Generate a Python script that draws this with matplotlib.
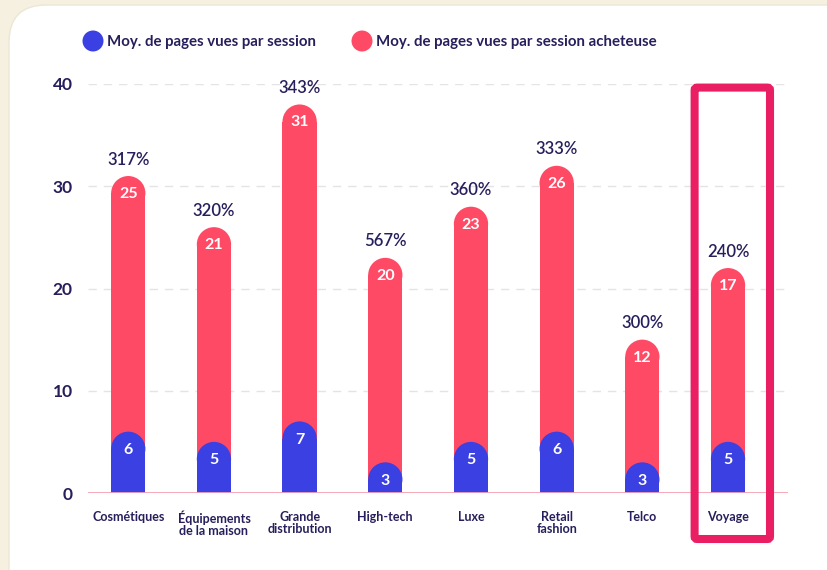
import matplotlib.pyplot as plt
from matplotlib.patches import Rectangle, Ellipse, FancyBboxPatch

categories = ["Cosmétiques", "Équipements\nde la maison", "Grande\ndistribution", "High-tech",
              "Luxe", "Retail\nfashion", "Telco", "Voyage"]
pages_session = [6, 5, 7, 3, 5, 6, 3, 5]
pages_acheteuse = [25, 21, 31, 20, 23, 26, 12, 17]
highlight = "Voyage"

BLUE = "#3a40e2"
RED = "#ff4a66"
NAVY = "#261f5c"
PINK = "#e91e63"
CREAM = "#f6f0e1"

plt.rcParams["font.family"] = ["Lato", "DejaVu Sans"]

fig = plt.figure(figsize=(8.28, 5.70), dpi=100)
fig.patch.set_facecolor(CREAM)

# white card behind the chart
card = FancyBboxPatch((9 / 828, -40 / 570), 860 / 828, 605 / 570,
                      boxstyle="round,pad=0,rounding_size=0.045", transform=fig.transFigure,
                      facecolor="white", edgecolor="#ece6d6", linewidth=1.0, zorder=-5,
                      mutation_aspect=828 / 570)
fig.patches.append(card)

ax = fig.add_axes([88 / 828, 77 / 570, 700 / 828, 409 / 570])
ax.set_zorder(2)
ax.set_facecolor("none")
ax.set_xlim(-0.47, 7.7)
ax.set_ylim(0, 40)
for s in ax.spines.values():
    s.set_visible(False)
ax.set_xticks([])
ax.set_yticks([0, 10, 20, 30, 40])
ax.tick_params(axis="y", length=0, pad=11, labelsize=12.5, labelcolor=NAVY)
for t in ax.get_yticklabels():
    t.set_fontweight("bold")
for yv in [10, 20, 30, 40]:
    ax.axhline(yv, color="#e4e4e8", lw=1.0, ls=(0, (6, 5)), zorder=1)
ax.axhline(0, color="#f4a3b3", lw=1.3, zorder=5)

# pixels per data unit, used to keep the bar caps round
px_x = 700 / (7.7 + 0.47)
px_y = 409 / 40
width = 0.40


def rounded_bar(x, h, color, z):
    ry = (width / 2) * px_x / px_y
    ax.add_patch(Rectangle((x - width / 2, 0), width, h - ry, facecolor=color, lw=0, zorder=z))
    ax.add_patch(Ellipse((x, h - ry), width, 2 * ry, facecolor=color, lw=0, zorder=z))


for i, cat in enumerate(categories):
    b = pages_session[i]
    r = pages_acheteuse[i]
    total = b + r
    rounded_bar(i, total, RED, 2)
    rounded_bar(i, b, BLUE, 3)
    ax.text(i, total - 1.75, str(r), ha="center", va="center", color="white",
            fontsize=11.5, fontweight="bold", zorder=6)
    ax.text(i, b - 1.8, str(b), ha="center", va="center", color="white",
            fontsize=11.5, fontweight="bold", zorder=6)
    pct = round((r - b) / b * 100)
    ax.text(i, total + 1.6, f"{pct}%", ha="center", va="center", color=NAVY,
            fontsize=12, fontweight="semibold", clip_on=False)
    ax.text(i, -1.75, cat, ha="center", va="top", color=NAVY, fontsize=9,
            fontweight="bold", linespacing=1.0, clip_on=False)

# frame around the highlighted category
hi = categories.index(highlight)
ax.add_patch(FancyBboxPatch((hi - 0.39, -4.5), 0.88, 44.15,
                            boxstyle="round,pad=0,rounding_size=0.03",
                            facecolor="none", edgecolor=PINK, lw=5.8, clip_on=False, zorder=7,
                            mutation_aspect=px_x / px_y))

# legend
for cx, color, label in [(93, BLUE, "Moy. de pages vues par session"),
                         (362, RED, "Moy. de pages vues par session acheteuse")]:
    fig.patches.append(Ellipse((cx / 828, 1 - 41 / 570), 21 / 828, 21 / 570,
                               transform=fig.transFigure, facecolor=color, lw=0))
    fig.text((cx + 14) / 828, 1 - 42 / 570, label, ha="left", va="center", color=NAVY,
             fontsize=10.8, fontweight="bold")

fig.savefig("out.png", dpi=100, facecolor=fig.get_facecolor())
